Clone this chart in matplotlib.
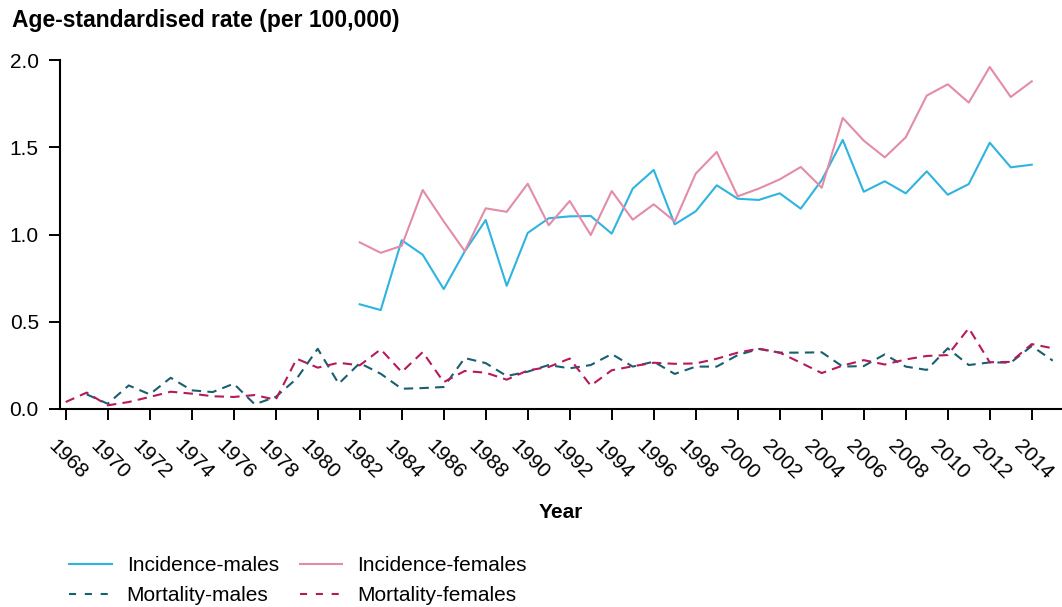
import numpy as np
import matplotlib
matplotlib.use("Agg")
import matplotlib.pyplot as plt
import matplotlib.transforms as mtransforms
from matplotlib.lines import Line2D

# ---------- Data ----------
years = list(range(1968, 2016))
nan = np.nan

# incidence only recorded 1982-2014
inc_years = list(range(1982, 2015))
inc_males = [0.600, 0.567, 0.967, 0.884, 0.687, 0.903, 1.083, 0.706, 1.009, 1.093,
             1.104, 1.106, 1.005, 1.263, 1.370, 1.058, 1.133, 1.282, 1.205, 1.198,
             1.236, 1.148, 1.312, 1.542, 1.245, 1.305, 1.236, 1.362, 1.228, 1.289,
             1.526, 1.385, 1.400]
inc_females = [0.955, 0.895, 0.935, 1.255, 1.075, 0.905, 1.150, 1.130, 1.291, 1.053,
               1.192, 0.997, 1.249, 1.085, 1.173, 1.075, 1.349, 1.473, 1.219, 1.263,
               1.316, 1.387, 1.268, 1.668, 1.538, 1.442, 1.557, 1.796, 1.861, 1.756,
               1.960, 1.788, 1.878]

mort_males = [nan, 0.084, 0.030, 0.135, 0.084, 0.179, 0.107, 0.097, 0.145, 0.027,
              0.069, 0.174, 0.345, 0.145, 0.263, 0.202, 0.116, 0.120, 0.126, 0.292,
              0.263, 0.189, 0.214, 0.252, 0.233, 0.252, 0.315, 0.243, 0.271, 0.201,
              0.243, 0.243, 0.309, 0.344, 0.323, 0.323, 0.325, 0.243, 0.246, 0.313,
              0.243, 0.224, 0.348, 0.252, 0.267, 0.266, 0.361, 0.277]
mort_females = [0.040, 0.094, 0.021, 0.040, 0.069, 0.099, 0.088, 0.073, 0.069, 0.080,
                0.053, 0.288, 0.237, 0.265, 0.250, 0.342, 0.212, 0.326, 0.154, 0.218,
                0.208, 0.168, 0.221, 0.241, 0.289, 0.134, 0.222, 0.245, 0.265, 0.259,
                0.261, 0.288, 0.323, 0.346, 0.323, 0.265, 0.206, 0.249, 0.280, 0.255,
                0.284, 0.304, 0.309, 0.463, 0.268, 0.270, 0.372, 0.348]

tick_years = list(range(1968, 2015, 2))
y_ticks = [0.0, 0.5, 1.0, 1.5, 2.0]

labels = ["Incidence-males", "Incidence-females", "Mortality-males", "Mortality-females"]
colors = ["#2FB3E0", "#E38CA8", "#1A5E70", "#B51A5A"]

# ---------- Style ----------
plt.rcParams['font.family'] = ['Liberation Sans', 'DejaVu Sans']
W, H = 1062, 607
fig = plt.figure(figsize=(W / 100, H / 100), dpi=100)
ax = fig.add_axes([59.6 / W, 198 / H, 1 - 59.6 / W, 349 / H])

lw = 1.5
dash = (4.5, 3.0)
ax.plot(inc_years, inc_males, color=colors[0], lw=lw)
ax.plot(inc_years, inc_females, color=colors[1], lw=lw)
ax.plot(years, mort_males, color=colors[2], lw=lw, dashes=dash)
ax.plot(years, mort_females, color=colors[3], lw=lw, dashes=dash)

ax.set_xlim(1967.71, 2015.44)
ax.set_ylim(0, 2.0)
ax.set_yticks(y_ticks)
ax.set_yticklabels([f"{v:.1f}" for v in y_ticks])
ax.set_xticks(tick_years)
ax.set_xticklabels([str(y) for y in tick_years], rotation=-45, ha='center')

for side in ['top', 'right']:
    ax.spines[side].set_visible(False)
for side in ['left', 'bottom']:
    ax.spines[side].set_linewidth(1.5)
ax.tick_params(axis='both', length=8, width=1.4, labelsize=15, colors='black')
ax.tick_params(axis='y', pad=7)
ax.tick_params(axis='x', pad=12)

# nudge rotated year labels slightly right
offset = mtransforms.ScaledTranslation(2 / 100, 0, fig.dpi_scale_trans)
for lab in ax.get_xticklabels():
    lab.set_transform(lab.get_transform() + offset)

# ---------- Text ----------
fig.text(12 / W, 1 - 20 / H, "Age-standardised rate (per 100,000)",
         fontsize=16.5, fontweight='bold', va='center', ha='left')
fig.text((59.6 + W) / 2 / W, 1 - 513 / H, "Year",
         fontsize=15, fontweight='bold', va='center', ha='center')

# ---------- Legend ----------
handles = [
    Line2D([], [], color=colors[0], lw=lw),
    Line2D([], [], color=colors[1], lw=lw),
    Line2D([], [], color=colors[2], lw=lw, dashes=(3.4, 4.2)),
    Line2D([], [], color=colors[3], lw=lw, dashes=(3.4, 4.2)),
]
# order so that columns read row-wise like the original
order = [0, 2, 1, 3]
fig.legend([handles[i] for i in order], [labels[i] for i in order],
           ncol=2, loc='upper left', bbox_to_anchor=(69 / W, 1 - 556 / H),
           frameon=False, fontsize=15, borderpad=0, borderaxespad=0,
           handlelength=2.05, handletextpad=0.72, columnspacing=1.0,
           labelspacing=0.55)

fig.savefig("out.png", dpi=100)
